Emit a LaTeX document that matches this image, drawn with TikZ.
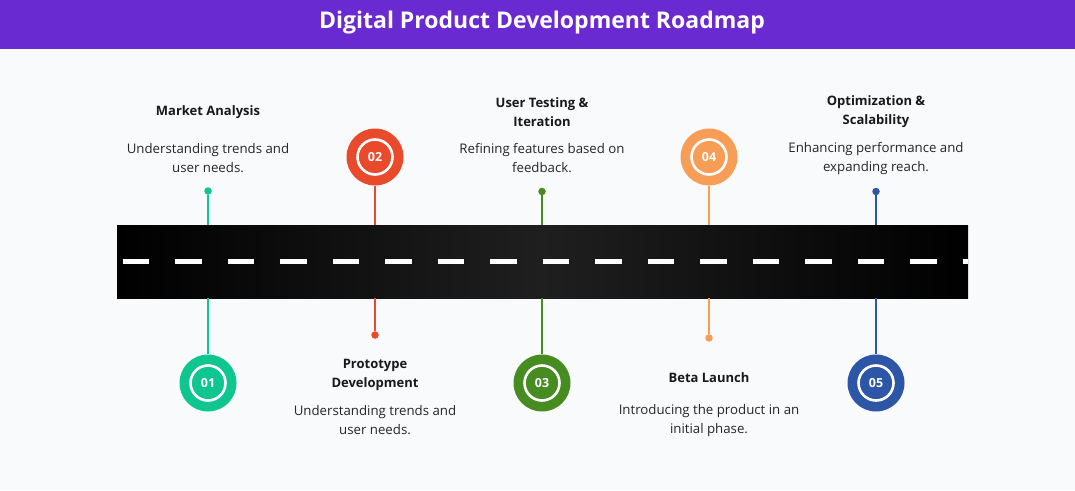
\documentclass[tikz,border=0pt]{standalone}
\usepackage{fontspec}
\setmainfont{Open Sans}
\usepackage{tikz}
\usetikzlibrary{positioning}

\definecolor{bgcol}{HTML}{F9FAFC}
\definecolor{barcol}{HTML}{6A2AD1}
\definecolor{roadmid}{HTML}{1F1F1F}
\definecolor{stepa}{HTML}{0FC590}
\definecolor{stepb}{HTML}{EA4A2C}
\definecolor{stepc}{HTML}{478C21}
\definecolor{stepd}{HTML}{F89D55}
\definecolor{stepe}{HTML}{2E56A7}

\tikzset{
  pin/.style={circle, fill=#1, inner sep=0pt, minimum size=7.5pt},
  badge/.style={circle, fill=#1, inner sep=0pt, minimum size=57pt},
  ring/.style={circle, draw=white, line width=2.6pt, inner sep=0pt, minimum size=35pt,
    text=white, font=\fontsize{12.5}{12.5}\selectfont\bfseries},
  stem/.style={draw=#1, line width=2pt},
  head/.style={align=center, font=\fontsize{13}{19}\selectfont\bfseries, text=black!90},
  blurb/.style={align=center, font=\fontsize{13.25}{19}\selectfont, text=black!85},
}

\begin{document}
\begin{tikzpicture}[x=1pt, y=-1pt]
\useasboundingbox (0,0) rectangle (1075,490);
\fill[bgcol] (0,0) rectangle (1075,490);
\fill[barcol] (0,0) rectangle (1075,49);
\node[text=white, font=\fontsize{23}{23}\selectfont\bfseries] (title) at (542,23) {Digital Product Development Roadmap};

% road
\node[rectangle, minimum width=851pt, minimum height=73pt, inner sep=0pt,
  left color=black, right color=black, middle color=roadmid] (road) at (542.5,261.5) {};
\draw[white, line width=4.5pt, dash pattern=on 26.5pt off 26pt] ([xshift=5.7pt]road.west) -- (road.east);

% 01
\node[pin=stepa] (d1) at (208,191) {};
\node[badge=stepa] (b1) at (208,383) {};
\node[ring] (r1) at (b1) {01};
\draw[stem=stepa] (d1) -- (d1 |- road.north);
\draw[stem=stepa] (b1.north |- road.south) -- (b1.north);
\node[head] (h1) at (208,112) {Market Analysis};
\node[blurb] (t1) at (208,158.5) {Understanding trends and\\user needs.};

% 02
\node[badge=stepb] (b2) at (375,157) {};
\node[ring] (r2) at (b2) {02};
\node[pin=stepb] (d2) at (375,335) {};
\draw[stem=stepb] (b2.south) -- (b2.south |- road.north);
\draw[stem=stepb] (d2 |- road.south) -- (d2);
\node[head] (h2) at (375,375) {Prototype\\Development};
\node[blurb] (t2) at (375,420.5) {Understanding trends and\\user needs.};

% 03
\node[pin=stepc] (d3) at (542,191.5) {};
\node[badge=stepc] (b3) at (542,383) {};
\node[ring] (r3) at (b3) {03};
\draw[stem=stepc] (d3) -- (d3 |- road.north);
\draw[stem=stepc] (b3.north |- road.south) -- (b3.north);
\node[head] (h3) at (542,112) {User Testing \&\\Iteration};
\node[blurb] (t3) at (542,158.5) {Refining features based on\\feedback.};

% 04
\node[badge=stepd] (b4) at (709,157) {};
\node[ring] (r4) at (b4) {04};
\node[pin=stepd] (d4) at (709,338) {};
\draw[stem=stepd] (b4.south) -- (b4.south |- road.north);
\draw[stem=stepd] (d4 |- road.south) -- (d4);
\node[head] (h4) at (709,377.5) {Beta Launch};
\node[blurb] (t4) at (709,420.5) {Introducing the product in an\\initial phase.};

% 05
\node[pin=stepe] (d5) at (876,191.5) {};
\node[badge=stepe] (b5) at (876,383) {};
\node[ring] (r5) at (b5) {05};
\draw[stem=stepe] (d5) -- (d5 |- road.north);
\draw[stem=stepe] (b5.north |- road.south) -- (b5.north);
\node[head] (h5) at (876,112) {Optimization \&\\Scalability};
\node[blurb] (t5) at (876,158.5) {Enhancing performance and\\expanding reach.};
\end{tikzpicture}
\end{document}
